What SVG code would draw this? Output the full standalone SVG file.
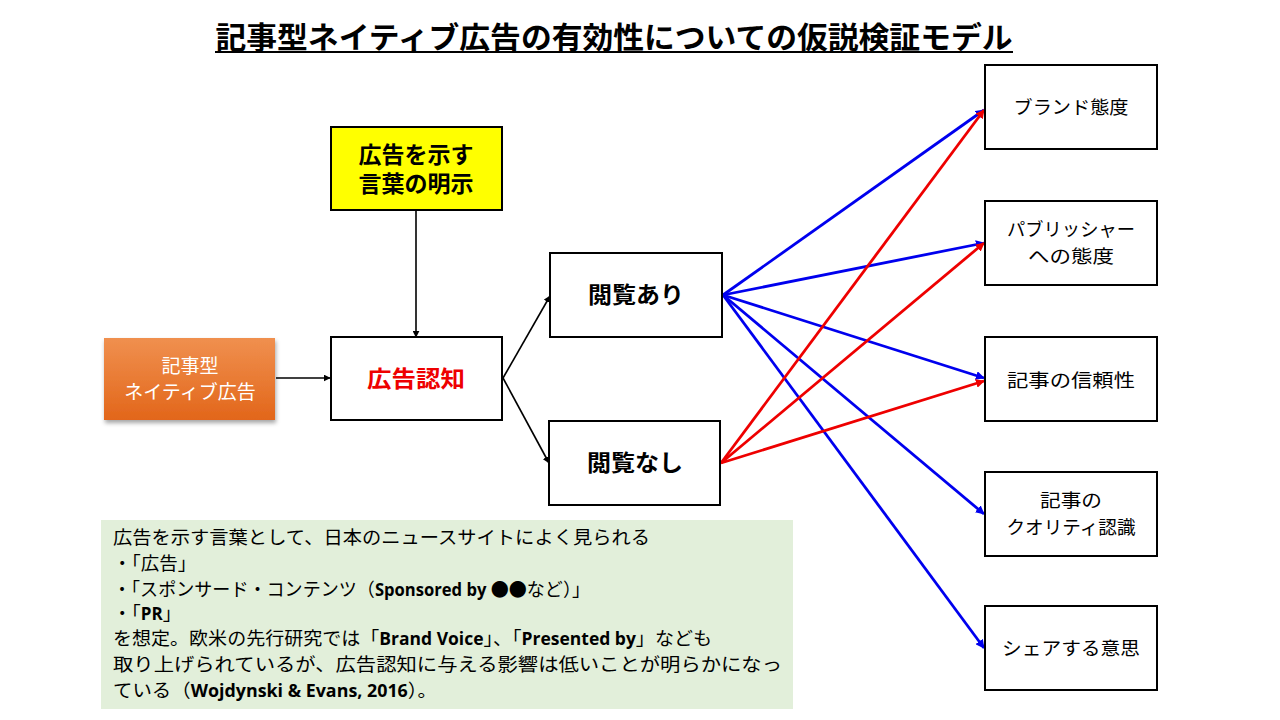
<svg xmlns="http://www.w3.org/2000/svg" width="1280" height="720" viewBox="0 0 1280 720">
<defs>
<style>
.jp{font-family:"Noto Sans CJK JP","Noto Sans",sans-serif;}
.box{fill:#fff;stroke:#000;stroke-width:2;}
.bt{font-size:22.5px;font-weight:bold;text-anchor:middle;fill:#000;}
.rt{font-size:18.5px;text-anchor:middle;fill:#000;}
.blk{stroke:#000;stroke-width:1.6;fill:none;}
.blue{stroke:#0000ee;stroke-width:2.8;fill:none;}
.red{stroke:#ee0000;stroke-width:2.8;fill:none;}
.note{font-size:18.5px;fill:#000;}
.lat{font-family:"Open Sans","Liberation Sans",sans-serif;font-weight:bold;font-size:17px;}
</style>
<linearGradient id="og" x1="0" y1="0" x2="0" y2="1">
<stop offset="0" stop-color="#f0904f"/>
<stop offset="1" stop-color="#e2661a"/>
</linearGradient>
<filter id="sh" x="-10%" y="-10%" width="125%" height="130%">
<feDropShadow dx="1" dy="3" stdDeviation="2" flood-color="#000" flood-opacity="0.35"/>
</filter>
<marker id="ak" viewBox="0 0 10 10" refX="9" refY="5" markerWidth="7" markerHeight="7" markerUnits="userSpaceOnUse" orient="auto"><path d="M0,0 L10,5 L0,10 z" fill="#000"/></marker>
<marker id="ab" viewBox="0 0 10 10" refX="9" refY="5" markerWidth="9" markerHeight="9" markerUnits="userSpaceOnUse" orient="auto"><path d="M0,0 L10,5 L0,10 z" fill="#0000ee"/></marker>
<marker id="ar" viewBox="0 0 10 10" refX="9" refY="5" markerWidth="9" markerHeight="9" markerUnits="userSpaceOnUse" orient="auto"><path d="M0,0 L10,5 L0,10 z" fill="#ee0000"/></marker>
</defs>
<rect width="1280" height="720" fill="#fff"/>

<g id="title">
<text class="jp" x="614" y="48" font-size="30" font-weight="bold" text-anchor="middle" textLength="797" lengthAdjust="spacingAndGlyphs">記事型ネイティブ広告の有効性についての仮説検証モデル</text>
<line x1="215" y1="52" x2="1013" y2="52" stroke="#000" stroke-width="2"/>
</g>

<g id="connectors">
<line class="blk" x1="276" y1="378" x2="330" y2="378" marker-end="url(#ak)"/>
<line class="blk" x1="416" y1="211" x2="416" y2="337" marker-end="url(#ak)"/>
<line class="blk" x1="503" y1="378" x2="550" y2="296" marker-end="url(#ak)"/>
<line class="blk" x1="503" y1="378" x2="549" y2="463" marker-end="url(#ak)"/>
<line class="blue" x1="723" y1="295" x2="984" y2="110" marker-end="url(#ab)"/>
<line class="blue" x1="723" y1="295" x2="984" y2="243" marker-end="url(#ab)"/>
<line class="blue" x1="723" y1="295" x2="984" y2="378" marker-end="url(#ab)"/>
<line class="blue" x1="723" y1="295" x2="984" y2="514" marker-end="url(#ab)"/>
<line class="blue" x1="723" y1="295" x2="984" y2="648" marker-end="url(#ab)"/>
<line class="red" x1="721" y1="463" x2="984" y2="110" marker-end="url(#ar)"/>
<line class="red" x1="721" y1="463" x2="984" y2="243" marker-end="url(#ar)"/>
<line class="red" x1="721" y1="463" x2="984" y2="381" marker-end="url(#ar)"/>
</g>

<g id="native-ad">
<rect x="104" y="338" width="171" height="82" fill="url(#og)" filter="url(#sh)"/>
<text class="jp" x="190" y="373" font-size="19" fill="#fff" text-anchor="middle">記事型</text>
<text class="jp" x="190" y="399" font-size="19" fill="#fff" text-anchor="middle">ネイティブ広告</text>
</g>

<g id="disclosure">
<rect x="331" y="127" width="171" height="83" fill="#ffff00" stroke="#000" stroke-width="2"/>
<text class="jp bt" x="416" y="163" textLength="115" lengthAdjust="spacingAndGlyphs">広告を示す</text>
<text class="jp bt" x="416" y="192" textLength="115" lengthAdjust="spacingAndGlyphs">言葉の明示</text>
</g>

<g id="ad-recognition">
<rect class="box" x="331" y="337" width="171" height="83"/>
<text class="jp bt" x="416" y="387" style="fill:#ee0000" textLength="98" lengthAdjust="spacingAndGlyphs">広告認知</text>
</g>

<g id="viewed">
<rect class="box" x="550" y="253" width="172" height="84"/>
<text class="jp bt" x="636" y="303" textLength="96" lengthAdjust="spacingAndGlyphs">閲覧あり</text>
</g>

<g id="not-viewed">
<rect class="box" x="549" y="421" width="171" height="84"/>
<text class="jp bt" x="635" y="471" textLength="96" lengthAdjust="spacingAndGlyphs">閲覧なし</text>
</g>

<g id="brand-attitude">
<rect class="box" x="985" y="65" width="172" height="84"/>
<text class="jp rt" x="1071" y="114" textLength="115" lengthAdjust="spacingAndGlyphs">ブランド態度</text>
</g>

<g id="publisher-attitude">
<rect class="box" x="985" y="201" width="172" height="84"/>
<text class="jp rt" x="1071" y="236" textLength="128" lengthAdjust="spacingAndGlyphs">パブリッシャー</text>
<text class="jp rt" x="1071" y="263" textLength="86" lengthAdjust="spacingAndGlyphs">への態度</text>
</g>

<g id="credibility">
<rect class="box" x="985" y="337" width="172" height="84"/>
<text class="jp rt" x="1071" y="387" textLength="128" lengthAdjust="spacingAndGlyphs">記事の信頼性</text>
</g>

<g id="quality">
<rect class="box" x="985" y="472" width="172" height="84"/>
<text class="jp rt" x="1071" y="507" textLength="62" lengthAdjust="spacingAndGlyphs">記事の</text>
<text class="jp rt" x="1071" y="534" textLength="129" lengthAdjust="spacingAndGlyphs">クオリティ認識</text>
</g>

<g id="share">
<rect class="box" x="985" y="606" width="172" height="84"/>
<text class="jp rt" x="1071" y="655" textLength="138" lengthAdjust="spacingAndGlyphs">シェアする意思</text>
</g>

<g id="note">
<rect x="101" y="520" width="692" height="189" fill="#e2efda"/>
<text class="jp note" x="113" y="544" textLength="537" lengthAdjust="spacingAndGlyphs">広告を示す言葉として、日本のニュースサイトによく見られる</text>
<text class="jp note" x="113" y="570">・「広告」</text>
<text class="jp note" x="113" y="596" textLength="477" lengthAdjust="spacingAndGlyphs">・「スポンサード・コンテンツ（<tspan class="lat">Sponsored by </tspan>●●など）」</text>
<text class="jp note" x="113" y="620">・「<tspan class="lat">PR</tspan>」</text>
<text class="jp note" x="113" y="645" textLength="599" lengthAdjust="spacingAndGlyphs">を想定。欧米の先行研究では「<tspan class="lat">Brand Voice</tspan>」、「<tspan class="lat">Presented by</tspan>」なども</text>
<text class="jp note" x="113" y="671" textLength="669" lengthAdjust="spacingAndGlyphs">取り上げられているが、広告認知に与える影響は低いことが明らかになっ</text>
<text class="jp note" x="113" y="697" textLength="324" lengthAdjust="spacingAndGlyphs">ている（<tspan class="lat">Wojdynski &amp; Evans, 2016</tspan>）。</text>
</g>
</svg>
